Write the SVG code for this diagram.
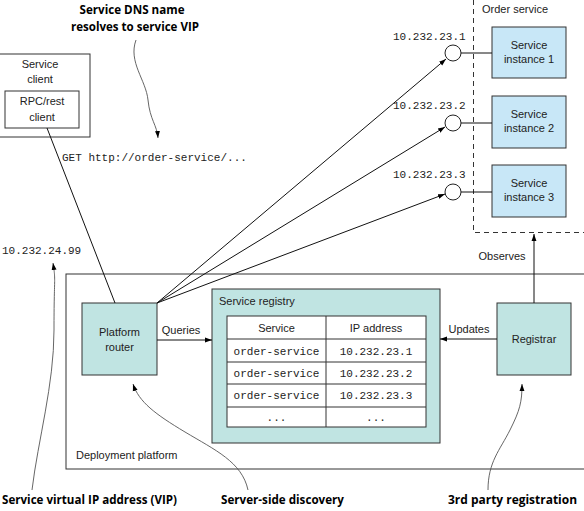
<svg xmlns="http://www.w3.org/2000/svg" width="584" height="511" viewBox="0 0 584 511">
<defs>
<marker id="ah" viewBox="0 0 10 10" refX="10" refY="5" markerWidth="7" markerHeight="7" orient="auto" markerUnits="userSpaceOnUse">
<path d="M0,1.5 L10,5 L0,8.5 z" fill="#000"/>
</marker>
</defs>
<style>
text{font-family:"Liberation Sans",Arial,sans-serif;font-size:11px;fill:#222}
.m{font-family:"Liberation Mono","Courier New",monospace;font-size:11px}
.b{font-family:"Open Sans","DejaVu Sans",sans-serif;font-weight:bold;font-size:12.5px;fill:#000}
.c{text-anchor:middle}
.e{text-anchor:end}
.box{fill:#fff;stroke:#333;stroke-width:1}
.teal{fill:#c0e4e2;stroke:#333;stroke-width:1}
.blue{fill:#c8e7f7;stroke:#333;stroke-width:1}
.ln{stroke:#111;stroke-width:1;fill:none}
.cv{stroke:#555;stroke-width:0.9;fill:none}
</style>

<g id="deployment-platform">
<rect class="box" x="66" y="274" width="530" height="195"/>
<text x="76" y="459">Deployment platform</text>
</g>

<g id="order-service">
<path d="M473.5,0 V232.5 H584" stroke="#333" stroke-width="1" fill="none" stroke-dasharray="5,4"/>
<text x="482" y="13">Order service</text>
</g>

<g id="service-client">
<rect class="box" x="-1" y="54" width="91" height="83"/>
<text class="c" x="40" y="68">Service</text>
<text class="c" x="40" y="83">client</text>
<rect class="box" x="5" y="91" width="74" height="37"/>
<text class="c" x="42" y="105">RPC/rest</text>
<text class="c" x="42" y="121">client</text>
</g>

<g id="instance1">
<rect class="blue" x="492" y="27" width="74" height="51"/>
<text class="c" x="529" y="49">Service</text>
<text class="c" x="529" y="63">instance 1</text>
</g>
<g id="instance2">
<rect class="blue" x="492" y="96" width="74" height="52"/>
<text class="c" x="529" y="118">Service</text>
<text class="c" x="529" y="132">instance 2</text>
</g>
<g id="instance3">
<rect class="blue" x="492" y="165" width="74" height="52"/>
<text class="c" x="529" y="187">Service</text>
<text class="c" x="529" y="201">instance 3</text>
</g>

<g id="vip1">
<circle cx="453" cy="53" r="8" fill="#fff" stroke="#222"/>
<text class="m" x="393" y="40">10.232.23.1</text>
</g>
<g id="vip2">
<circle cx="453" cy="123" r="8" fill="#fff" stroke="#222"/>
<text class="m" x="393" y="109">10.232.23.2</text>
</g>
<g id="vip3">
<circle cx="453" cy="192" r="8" fill="#fff" stroke="#222"/>
<text class="m" x="393" y="178">10.232.23.3</text>
</g>

<g id="platform-router">
<rect class="teal" x="82" y="303" width="75" height="72"/>
<text class="c" x="119.5" y="336">Platform</text>
<text class="c" x="119.5" y="351">router</text>
</g>

<g id="service-registry">
<rect class="teal" x="212" y="289" width="228" height="154"/>
<text x="219" y="305">Service registry</text>
<rect x="227" y="316" width="199" height="111" fill="#fff" stroke="#333"/>
<path d="M326,316 V427 M227,339 H426 M227,362 H426 M227,384 H426 M227,407 H426" stroke="#333" fill="none"/>
<text class="c" x="276.5" y="332">Service</text>
<text class="c" x="376" y="332">IP address</text>
<text class="m c" x="276.5" y="355">order-service</text>
<text class="m c" x="376" y="355">10.232.23.1</text>
<text class="m c" x="276.5" y="377">order-service</text>
<text class="m c" x="376" y="377">10.232.23.2</text>
<text class="m c" x="276.5" y="399">order-service</text>
<text class="m c" x="376" y="399">10.232.23.3</text>
<text class="m c" x="276.5" y="421">...</text>
<text class="m c" x="376" y="421">...</text>
</g>

<g id="registrar">
<rect class="teal" x="497" y="303" width="74" height="72"/>
<text class="c" x="534" y="343">Registrar</text>
</g>

<g id="connectors">
<line class="ln" x1="47" y1="128" x2="115" y2="303"/>
<line class="ln" x1="157" y1="303" x2="446" y2="59" marker-end="url(#ah)"/>
<line class="ln" x1="157" y1="303" x2="445" y2="127" marker-end="url(#ah)"/>
<line class="ln" x1="157" y1="303" x2="445" y2="194" marker-end="url(#ah)"/>
<line class="ln" x1="461" y1="53" x2="492" y2="53"/>
<line class="ln" x1="461" y1="123" x2="492" y2="123"/>
<line class="ln" x1="461" y1="192" x2="492" y2="192"/>
<line class="ln" x1="157" y1="340" x2="212" y2="340" marker-end="url(#ah)"/>
<text class="c" x="181" y="334">Queries</text>
<line class="ln" x1="497" y1="339" x2="440" y2="339" marker-end="url(#ah)"/>
<text class="c" x="469" y="333">Updates</text>
<line class="ln" x1="534" y1="303" x2="534" y2="234" marker-end="url(#ah)"/>
<text class="c" x="502" y="260">Observes</text>
<path class="cv" d="M136,40 C128,62 146,80 148,100 S157,125 158,138" marker-end="url(#ah)"/>
<path class="cv" d="M32,490 C38,440 54,385 54,330 S56,282 53,263" marker-end="url(#ah)"/>
<path class="cv" d="M248,490 C242,462 215,450 185,432 S139,402 133,384" marker-end="url(#ah)"/>
<path class="cv" d="M488,490 C488,462 500,450 510,430 S522,402 522,384" marker-end="url(#ah)"/>
</g>

<g id="annotations">
<text class="m" x="62" y="161">GET http://order-service/...</text>
<text class="m" x="2" y="254">10.232.24.99</text>
<text class="b c" x="132" y="14" textLength="105" lengthAdjust="spacingAndGlyphs">Service DNS name</text>
<text class="b c" x="135" y="31" textLength="128" lengthAdjust="spacingAndGlyphs">resolves to service VIP</text>
<text class="b" x="2" y="504" textLength="175" lengthAdjust="spacingAndGlyphs">Service virtual IP address (VIP)</text>
<text class="b" x="221" y="504" textLength="123" lengthAdjust="spacingAndGlyphs">Server-side discovery</text>
<text class="b e" x="577" y="504" textLength="129" lengthAdjust="spacingAndGlyphs">3rd party registration</text>
</g>
</svg>
